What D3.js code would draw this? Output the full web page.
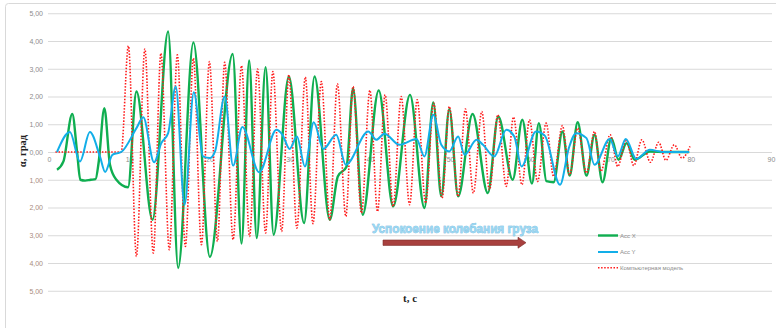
<!DOCTYPE html>
<html>
<head>
<meta charset="utf-8">
<script src="https://cdn.jsdelivr.net/npm/d3@7"></script>
<style>
  body { margin: 0; background: #fff; }
  svg { display: block; }
  .tick text { font-family: "Liberation Sans", Arial, sans-serif; font-size: 7px; }
</style>
</head>
<body>
<svg id="chart" width="776" height="328"></svg>
<script>
// t, value pairs (extrema and shape points)
const accX = [
  [1.0,-0.64],[1.8,-0.34],[2.9,1.37],[3.5,0.0],[3.9,-1.0],[4.5,-1.03],[5.2,-1.0],[5.8,-0.98],
  [6.2,-0.35],[6.9,1.58],[7.6,-0.46],[8.4,-1.0],[9.85,-1.27],[10.9,2.18],
  [12.9,-2.44],[14.85,4.34],[16.1,-4.18],[18.0,3.95],[20.05,-3.78],[22.9,3.53],[24.0,-3.3],
  [24.95,3.3],[25.9,-3.1],[27.0,3.06],[28.0,-2.98],[29.9,2.72],[31.8,-2.56],[33.1,2.72],
  [35.0,-2.44],[36.0,-0.88],[37.1,-0.52],[37.9,2.3],[39.1,-2.26],[41.1,2.22],[42.9,-1.96],
  [45.0,2.06],[46.8,-2.02],[47.9,1.79],[48.9,-1.6],[49.9,1.55],[51.0,-1.6],[52.8,1.37],
  [54.7,-1.48],[56.0,1.28],[57.8,-1.0],[59.0,1.16],[60.2,-1.14],[61.06,1.04],[62.0,-1.05],
  [62.9,-1.09],[64.0,0.74],[64.9,-0.85],[65.9,1.07],[67.0,-0.85],[68.0,0.62],[69.0,-1.09],
  [70.1,0.5],[71.0,-0.28],[72.0,0.32],[73.0,-0.28],[74.9,0.02],[77.0,0],[79.8,0]
];
const accY = [
  [1.0,0],[2.6,0.72],[3.86,-0.34],[5.1,0.72],[6.35,-0.16],[7.0,-0.72],[7.9,-0.1],[8.6,-0.04],
  [9.0,0.0],[10.9,0.86],[11.75,1.25],[13.1,-0.37],[14.0,0.32],[14.85,0.68],[15.8,2.36],[16.9,-1.9],
  [18.05,2.15],[19.2,-0.16],[20.05,-0.22],[20.7,0.02],[21.9,2.0],[22.95,-0.49],[24.1,0.9],
  [26.2,-0.73],[28.35,0.8],[29.1,0.62],[30.0,0.11],[30.9,0.56],[31.9,-0.52],[33.0,1.07],
  [34.2,0.11],[35.8,0.62],[37.0,-0.46],[39.8,0.74],[40.8,0.44],[41.8,0.66],[43.7,0.26],
  [45.8,0.47],[46.8,-0.16],[47.9,1.34],[48.9,0.26],[49.9,0.02],[51.0,0.56],[51.8,-0.1],
  [53.3,0.44],[54.1,0.26],[55.5,-0.16],[57.0,0.8],[58.0,0.56],[58.9,-0.52],[60.7,0.74],
  [61.8,0.59],[63.7,-1.18],[64.8,0.14],[65.7,0.68],[67.0,0.5],[68.0,-0.46],[69.9,0.47],
  [70.9,-0.16],[71.9,0.47],[73.2,-0.25],[74.9,0.08],[76.5,0],[79.8,0]
];
const model = [
  [0.8,0],[5.0,0],[9.0,0],[9.9,3.82],[10.9,-3.76],[11.95,3.71],[13.0,-3.64],[13.95,3.56],
  [15.0,-3.52],[16.0,3.5],[17.0,-3.4],[18.0,3.38],[19.0,-3.34],[20.0,3.26],[21.0,-3.22],
  [21.9,3.23],[22.95,-3.16],[24.0,3.11],[25.0,-3.04],[26.0,2.99],[27.0,-2.92],[27.9,2.9],
  [29.0,-2.86],[29.9,2.78],[30.9,-2.74],[31.95,2.7],[32.9,-2.58],[33.95,2.54],[35.0,-2.44],
  [35.95,2.46],[37.0,-2.32],[37.9,2.36],[38.95,-2.2],[40.0,2.22],[40.95,-2.14],[41.9,2.06],
  [42.9,-1.96],[43.9,2.0],[44.95,-1.9],[45.9,1.88],[46.95,-1.84],[47.95,1.76],[49.0,-1.66],
  [49.9,1.64],[51.0,-1.6],[51.9,1.55],[52.9,-1.48],[53.95,1.46],[54.9,-1.36],[55.95,1.34],
  [57.0,-1.24],[57.9,1.26],[58.95,-1.18],[59.9,1.16],[60.9,-1.06],[61.97,1.04],[62.9,-0.88],
  [64.0,0.95],[64.9,-0.82],[65.9,0.86],[67.0,-0.76],[68.0,0.74],[68.8,-0.7],[69.95,0.62],
  [70.9,-0.52],[71.95,0.44],[72.9,-0.49],[73.9,0.44],[74.97,-0.37],[76.0,0.35],[76.9,-0.3],
  [77.95,0.26],[78.9,-0.22],[79.9,0.2]
];
const xTicks = [0,10,20,30,40,50,60,70,80,90];
const yTicks = [-5,-4,-3,-2,-1,0,1,2,3,4,5];
const legendNames = ['Acc X', 'Acc Y', 'Компьютерная модель'];

const svg = d3.select('#chart');

// outer chart frame
svg.append('rect')
  .attr('x', 5.5).attr('y', 3.5).attr('width', 820).attr('height', 360).attr('rx', 3)
  .attr('fill', 'none').attr('stroke', '#d9d9d9');

let x = d3.scaleLinear().domain([0, 90]).range([49, 771]);
let y = d3.scaleLinear().domain([-5, 5]).range([290.75, 13.25]);

let fmt = v => Math.abs(v).toFixed(2).replace('.', ',');

// y axis with gridlines
let gy = svg.append('g')
  .attr('transform', 'translate(48,0)')
  .call(d3.axisLeft(y).tickValues(yTicks).tickSize(-724).tickPadding(5).tickFormat(fmt));
gy.select('.domain').remove();
gy.selectAll('.tick line').attr('stroke', '#d9d9d9').attr('stroke-width', 1);
gy.selectAll('.tick text').attr('fill', d => d < 0 ? '#a88c7c' : '#8c8c8c');

// x axis labels sit on the zero line
let gx = svg.append('g')
  .attr('transform', 'translate(0,' + y(0) + ')')
  .call(d3.axisBottom(x).tickValues(xTicks).tickSize(0).tickPadding(5.5).tickFormat(d3.format('d')));
gx.select('.domain').remove();
gx.selectAll('.tick text').attr('fill', '#8c8c8c');

let line = d3.line()
  .x(d => x(d[0]))
  .y(d => y(d[1]))
  .curve(d3.curveMonotoneX);

svg.append('path').datum(accX)
  .attr('d', line).attr('fill', 'none')
  .attr('stroke', '#0fae50').attr('stroke-width', 2.4).attr('stroke-linejoin', 'round');

svg.append('path').datum(model)
  .attr('d', line).attr('fill', 'none')
  .attr('stroke', '#ff1a1a').attr('stroke-width', 1.6).attr('stroke-dasharray', '1.5,1.6');

svg.append('path').datum(accY)
  .attr('d', line).attr('fill', 'none')
  .attr('stroke', '#12aee8').attr('stroke-width', 2).attr('stroke-linejoin', 'round');

// legend
let legendStyle = [
  { color: '#0fae50', w: 2.4, dash: null },
  { color: '#12aee8', w: 2, dash: null },
  { color: '#ff1a1a', w: 1.6, dash: '1.5,1.6' }
];
let legendY = [235.5, 252, 267.8];
let lg = svg.append('g');
legendNames.forEach(function (name, i) {
  lg.append('line')
    .attr('x1', 598).attr('x2', 618).attr('y1', legendY[i]).attr('y2', legendY[i])
    .attr('stroke', legendStyle[i].color).attr('stroke-width', legendStyle[i].w)
    .attr('stroke-dasharray', legendStyle[i].dash);
  lg.append('text')
    .attr('x', 620).attr('y', legendY[i] + 2)
    .attr('font-family', 'Liberation Sans, Arial, sans-serif').attr('font-size', 6)
    .attr('fill', '#8c8c8c')
    .text(name);
});

// axis titles
svg.append('text')
  .attr('transform', 'translate(26,151) rotate(-90)')
  .attr('text-anchor', 'middle')
  .attr('font-family', 'Liberation Serif, Times New Roman, serif')
  .attr('font-weight', 'bold').attr('font-size', 10.5).attr('fill', '#1f1f1f')
  .text('α, град');

svg.append('text')
  .attr('x', 410).attr('y', 302)
  .attr('text-anchor', 'middle')
  .attr('font-family', 'Liberation Serif, Times New Roman, serif')
  .attr('font-weight', 'bold').attr('font-size', 11).attr('fill', '#1f1f1f')
  .text('t, c');

// annotation
svg.append('text')
  .attr('x', 372).attr('y', 232.5)
  .attr('font-family', 'Liberation Sans, Arial, sans-serif')
  .attr('font-weight', 'bold').attr('font-size', 12.5)
  .attr('textLength', 166).attr('lengthAdjust', 'spacingAndGlyphs')
  .attr('fill', '#9ad6f1').attr('stroke', '#4ea9d6').attr('stroke-width', 0.5)
  .attr('paint-order', 'stroke')
  .text('Успокоение колебания груза');

svg.append('path')
  .attr('d', 'M383,240 L518,240 L518,237.2 L526,242.7 L518,248.2 L518,245.4 L383,245.4 Z')
  .attr('fill', '#a8403e').attr('stroke', '#7c2b2a').attr('stroke-width', 0.6);
</script>
</body>
</html>
